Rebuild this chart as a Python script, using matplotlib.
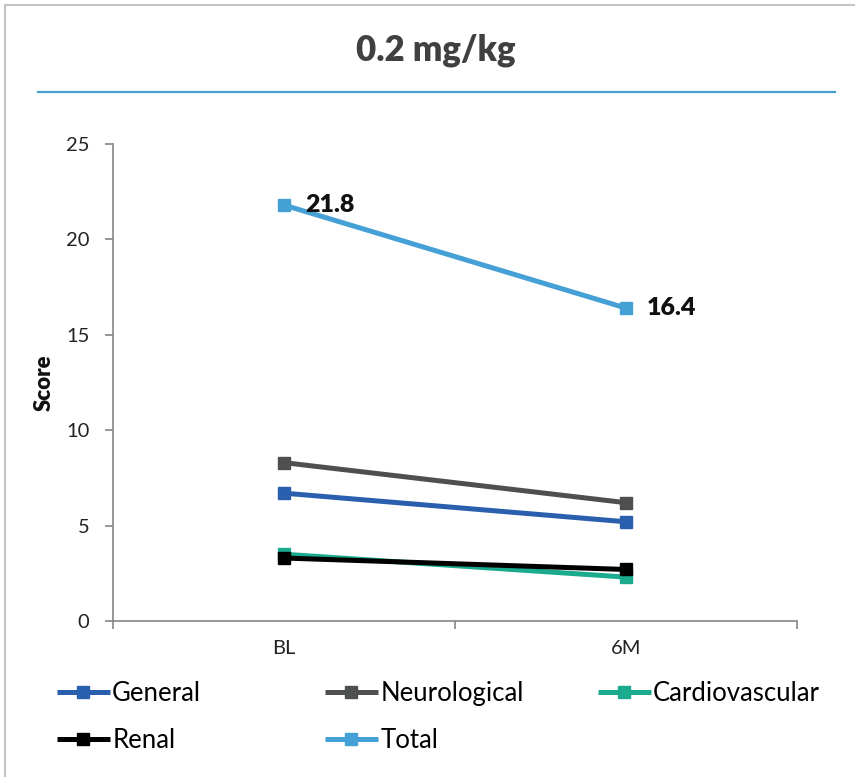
import matplotlib
matplotlib.use('Agg')
import matplotlib.pyplot as plt
from matplotlib.lines import Line2D

plt.rcParams['font.family'] = ['Lato', 'DejaVu Sans']

categories = ['BL', '6M']
series_names = ['General', 'Neurological', 'Cardiovascular', 'Renal', 'Total']
general = [6.7, 5.2]
neurological = [8.3, 6.2]
cardiovascular = [3.5, 2.3]
renal = [3.3, 2.7]
total = [21.8, 16.4]
yticks = [0, 5, 10, 15, 20, 25]

colors = {
    'General': '#2a5fad',
    'Neurological': '#4d504f',
    'Cardiovascular': '#1aab8f',
    'Renal': '#000000',
    'Total': '#45a0d6',
}

W, H = 855, 777
fig = plt.figure(figsize=(W / 100, H / 100), dpi=100)
ax = fig.add_axes([113 / W, 1 - 621 / H, (797 - 113) / W, (621 - 144) / H])

values = [general, neurological, cardiovascular, renal, total]
x = list(range(len(categories)))
handles = {}
for name, vals in zip(series_names, values):
    h, = ax.plot(x, vals, color=colors[name], lw=3.6, marker='s', markersize=9,
                 solid_capstyle='butt', label=name)
    handles[name] = h

# data labels on the total line
for xi, v in zip(x, total):
    ax.annotate(f'{v:.1f}', (xi, v), xytext=(15, 0), textcoords='offset points',
                ha='left', va='center', fontsize=18, fontweight='heavy', color='#111111')

ax.set_xlim(-0.5, 1.5)
ax.set_ylim(0, 25)
ax.set_yticks(yticks)
ax.set_xticks(x)
ax.set_xticklabels(categories)
ax.set_xticks([-0.5, 0.5, 1.5], minor=True)
ax.tick_params(axis='x', which='major', length=0, pad=14, labelsize=14.5, labelcolor='#222222')
ax.tick_params(axis='x', which='minor', length=6, width=1.2, color='#868686', direction='out')
ax.tick_params(axis='y', length=6, width=1.2, color='#868686', direction='out',
               labelsize=14.5, labelcolor='#222222', pad=11)
for s in ['top', 'right']:
    ax.spines[s].set_visible(False)
for s in ['left', 'bottom']:
    ax.spines[s].set_color('#868686')
    ax.spines[s].set_linewidth(1.2)
ax.set_ylabel('Score', fontsize=16, fontweight='heavy', labelpad=8, color='#111111')

# title and rule beneath it
fig.text(436 / W, 1 - 50 / H, '0.2 mg/kg', ha='center', va='center',
         fontsize=25, fontweight='heavy', color='#404040')
fig.add_artist(Line2D([38 / W, 835 / W], [1 - 92 / H, 1 - 92 / H],
                      color='#45a0d6', lw=1.6, transform=fig.transFigure))

# chart area border (left and top edges visible)
fig.add_artist(Line2D([5 / W, 5 / W], [0, 1 - 5 / H], color='#c4c4c4', lw=1.5,
                      transform=fig.transFigure))
fig.add_artist(Line2D([5 / W, 1], [1 - 5 / H, 1 - 5 / H], color='#c4c4c4', lw=1.5,
                      transform=fig.transFigure))

# legend laid out in three columns
columns = [(57, ['General', 'Renal']), (325, ['Neurological', 'Total']),
           (598, ['Cardiovascular'])]
for xpos, names in columns:
    fig.legend([handles[n] for n in names], names, loc='upper left',
               bbox_to_anchor=(xpos / W, 1 - 681 / H), frameon=False,
               fontsize=18.5, handlelength=2.05, handletextpad=0.1,
               borderpad=0, borderaxespad=0, labelspacing=0.85)

fig.savefig('out.png', dpi=100)
